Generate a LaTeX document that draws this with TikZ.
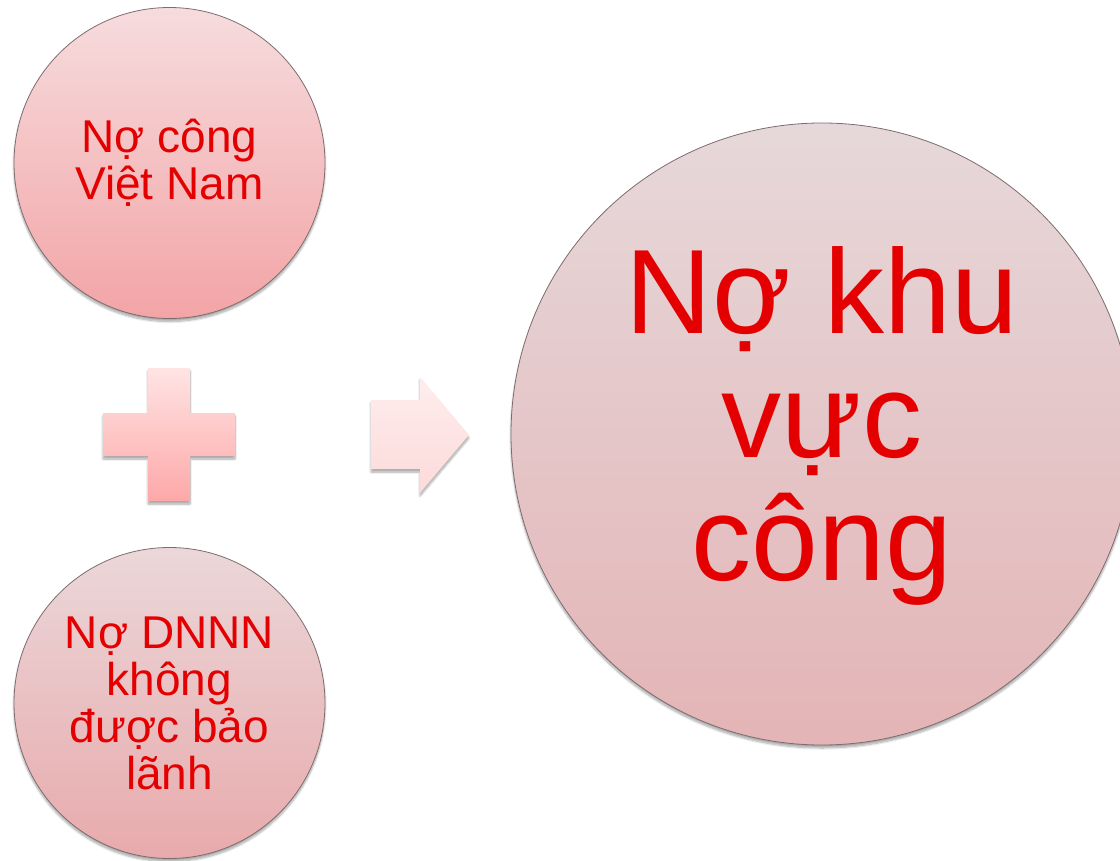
\documentclass[tikz,border=0pt]{standalone}
\usepackage{fontspec}
\setmainfont{Liberation Sans}
\usetikzlibrary{shadows.blur}
\definecolor{txtred}{RGB}{228,0,0}
\definecolor{rimcol}{RGB}{125,108,110}
\definecolor{aTop}{RGB}{246,220,222}
\definecolor{aBot}{RGB}{243,164,166}
\definecolor{bTop}{RGB}{235,215,217}
\definecolor{bBot}{RGB}{232,170,172}
\definecolor{cTop}{RGB}{230,216,218}
\definecolor{cBot}{RGB}{228,180,182}
\definecolor{pTop}{RGB}{255,228,228}
\definecolor{pBot}{RGB}{253,168,168}
\definecolor{rTop}{RGB}{254,237,237}
\definecolor{rBot}{RGB}{253,218,218}
\tikzset{
  softshadow/.style={blur shadow={shadow xshift=0pt,shadow yshift=-3pt,shadow blur steps=8,shadow opacity=35}},
  bubble/.style={circle,draw=rimcol,line width=0.8pt,inner sep=0pt,softshadow},
  smalltxt/.style={text=txtred,align=center,font=\fontsize{46}{47}\selectfont},
  bigtxt/.style={text=txtred,align=center,font=\fontsize{120}{123.5}\selectfont}
}
\begin{document}
\begin{tikzpicture}[x=1pt,y=-1pt]
\useasboundingbox (0,0) rectangle (1120,861);
% circles
\node[bubble,minimum size=311pt,top color=aTop,bottom color=aBot] (c1) at (169.5,163) {};
\node[bubble,minimum size=311pt,top color=bTop,bottom color=bBot] (c2) at (169.5,703) {};
\node[bubble,minimum size=622pt,top color=cTop,bottom color=cBot] (c3) at (822,434) {};
% texts
\node[smalltxt] (t1) at (c1.center) {Nợ công\\Việt Nam};
\node[smalltxt] (t2) at (c2.center) {Nợ DNNN\\không\\được bảo\\lãnh};
\node[bigtxt] (t3) at ([yshift=8pt]c3.center) {Nợ khu\\vực\\công};
% plus sign
\path[softshadow,top color=pTop,bottom color=pBot]
  (148,368) -- (190,368) -- (190,413) -- (235,413) -- (235,456) -- (190,456)
  -- (190,501) -- (148,501) -- (148,456) -- (103,456) -- (103,413) -- (148,413) -- cycle;
% arrow
\path[softshadow,top color=rTop,bottom color=rBot]
  (371,400) -- (420,400) -- (420,377) -- (469,435) -- (420,493) -- (420,469) -- (371,469) -- cycle;
\end{tikzpicture}
\end{document}
